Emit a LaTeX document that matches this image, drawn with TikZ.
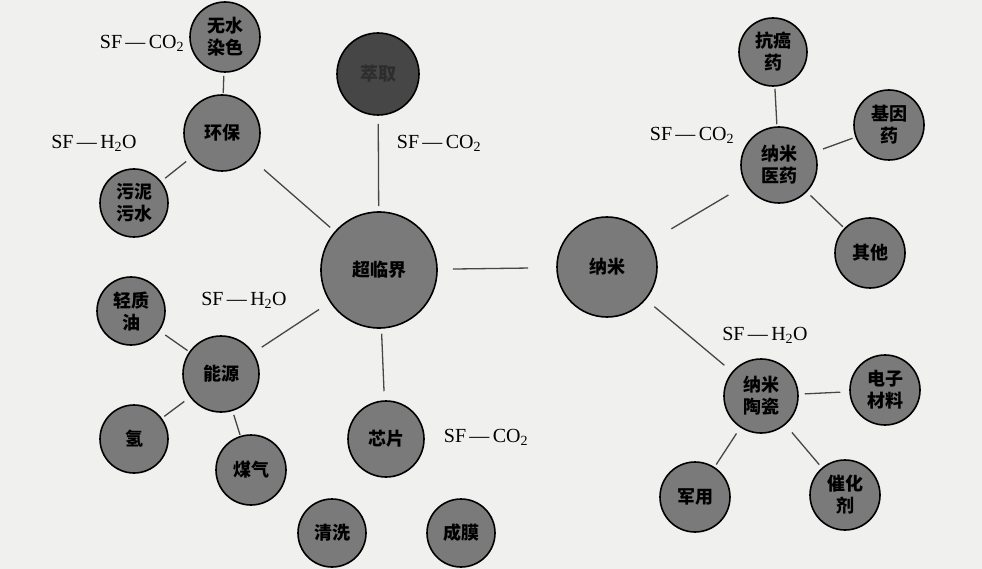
\documentclass[tikz,border=0pt]{standalone}
\usepackage{fontspec}
\setmainfont{Liberation Serif}
\newfontfamily\cjk{Noto Sans CJK SC}

\definecolor{pagegray}{RGB}{240,240,238}
\definecolor{bubblegray}{RGB}{122,122,122}
\definecolor{bubbledark}{RGB}{70,70,70}
\definecolor{darktext}{RGB}{45,45,45}
\definecolor{linegray}{RGB}{70,70,70}

\begin{document}
\begin{tikzpicture}[x=1pt, y=-1pt,
    bubble/.style={circle, draw=black, line width=1.6pt, fill=bubblegray,
        inner sep=0pt, align=center,
        font=\cjk\bfseries\fontsize{18}{22}\selectfont},
    darkbubble/.style={bubble, fill=bubbledark, text=darktext},
    sflabel/.style={inner sep=0pt, font=\fontsize{20}{22}\selectfont},
    link/.style={draw=linegray, line width=1.3pt}
    ]
    \useasboundingbox[fill=pagegray] (0,0) rectangle (982,569);

    % centre
    \node[bubble, minimum size=116pt] (cl) at (379,270) {超临界};
    \node[bubble, minimum size=100pt] (nm) at (607,267) {纳米};

    % left branch
    \node[bubble, minimum size=70pt] (wsrs) at (225,37) {无水\\染色};
    \node[bubble, minimum size=76pt] (hb) at (222,133) {环保};
    \node[bubble, minimum size=68pt] (wn) at (134,203) {污泥\\污水};
    \node[darkbubble, minimum size=82pt] (cq) at (378,74) {萃取};
    \node[bubble, minimum size=76pt] (ny) at (221,374) {能源};
    \node[bubble, minimum size=68pt] (qzy) at (131,311) {轻质\\油};
    \node[bubble, minimum size=68pt] (q) at (134,439) {氢};
    \node[bubble, minimum size=70pt] (mq) at (251,470) {煤气};
    \node[bubble, minimum size=76pt] (xp) at (386,439) {芯片};
    \node[bubble, minimum size=68pt] (qx) at (332,533) {清洗};
    \node[bubble, minimum size=68pt] (cm) at (461,533) {成膜};

    % right branch
    \node[bubble, minimum size=76pt] (nmyy) at (779,165) {纳米\\医药};
    \node[bubble, minimum size=68pt] (kay) at (773,52) {抗癌\\药};
    \node[bubble, minimum size=70pt] (jyy) at (889,125) {基因\\药};
    \node[bubble, minimum size=70pt] (qt) at (870,253) {其他};
    \node[bubble, minimum size=74pt] (nmtc) at (761,396) {纳米\\陶瓷};
    \node[bubble, minimum size=70pt] (dzcl) at (885,390) {电子\\材料};
    \node[bubble, minimum size=70pt] (jy) at (695,497) {军用};
    \node[bubble, minimum size=70pt] (chj) at (845,495) {催化\\剂};

    % solvents
    \node[sflabel] (sf-wsrs) at (142,43) {SF\,—\,CO\textsubscript{2}};
    \node[sflabel] (sf-hb) at (94,143) {SF\,—\,H\textsubscript{2}O};
    \node[sflabel] (sf-cq) at (439,143) {SF\,—\,CO\textsubscript{2}};
    \node[sflabel] (sf-ny) at (244,300) {SF\,—\,H\textsubscript{2}O};
    \node[sflabel] (sf-xp) at (486,437) {SF\,—\,CO\textsubscript{2}};
    \node[sflabel] (sf-nmyy) at (692,135) {SF\,—\,CO\textsubscript{2}};
    \node[sflabel] (sf-nmtc) at (765,335) {SF\,—\,H\textsubscript{2}O};

    \path[link]
    (wsrs) edge[shorten <=3pt, shorten >=1pt]  (hb)
    (hb)   edge[shorten <=7pt, shorten >=5pt]  (wn)
    (hb)   edge[shorten <=17pt, shorten >=6pt] (cl)
    (cq)   edge[shorten <=8pt, shorten >=5pt]  (cl)
    (cl)   edge[shorten <=15pt, shorten >=28pt] (nm)
    (cl)   edge[shorten <=13pt, shorten >=10pt] (ny)
    (cl)   edge[shorten <=5pt, shorten >=9pt]  (xp)
    (ny)   edge[shorten <=2pt, shorten >=7pt]  (qzy)
    (ny)   edge[shorten <=7pt, shorten >=3pt]  (q)
    (ny)   edge[shorten <=4pt, shorten >=1pt]  (mq)
    (nm)   edge[shorten <=24pt, shorten >=20pt] (nmyy)
    (nm)   edge[shorten <=11pt, shorten >=10pt] (nmtc)
    (nmyy) edge[shorten <=2pt, shorten >=2pt]  (kay)
    (nmyy) edge[shorten <=8pt, shorten >=3pt]  (jyy)
    (nmyy) edge[shorten <=5pt, shorten >=2pt]  (qt)
    (nmtc) edge[shorten <=6pt, shorten >=9pt]  (dzcl)
    (nmtc) edge[shorten <=7pt, shorten >=3pt]  (jy)
    (nmtc) edge[shorten <=10pt, shorten >=4pt] (chj);
\end{tikzpicture}
\end{document}
